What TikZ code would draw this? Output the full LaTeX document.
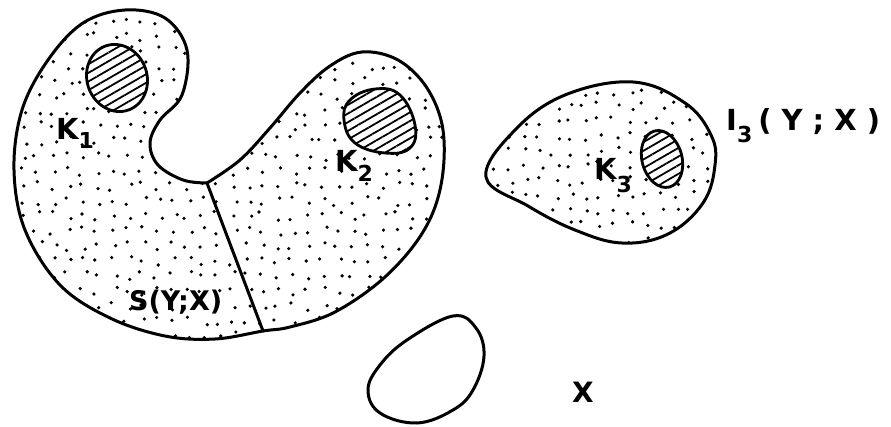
\documentclass[tikz,border=0pt]{standalone}
\usepackage{fontspec}
\setmainfont{DejaVu Sans}
\usepackage{tikz}
\usetikzlibrary{patterns.meta}

\newcommand\kidneypath{plot[smooth,tension=0.6] coordinates {
    (207,183) (240,160) (270,128) (300,93) (330,66) (362,52) (398,60)
    (427,88) (443,130) (441,185) (423,232) (385,277) (335,312) (290,327)
    (263,331) (215,339) (165,336) (110,318) (60,285) (25,230) (14,170)
    (22,110) (48,60) (83,23) (125,10) (165,18) (187,50) (182,95)
    (160,120) (150,143) (158,165) (183,180) (207,183)}}
\newcommand\droppath{plot[smooth cycle,tension=0.65] coordinates {
    (486,177) (515,130) (565,95) (633,82) (685,103) (711,135) (715,165)
    (703,203) (668,234) (622,243) (575,230) (528,206)}}
\newcommand\subfont{\fontsize{22}{22}\selectfont}

\begin{document}
\begin{tikzpicture}[
    x=1pt,y=-1pt,
    font=\fontsize{29}{31}\selectfont\bfseries,
    outline/.style={draw=black,line width=3pt,line join=round,line cap=round},
    hole/.style={draw=black,line width=2.8pt,preaction={fill=white},
        pattern={Lines[angle=30,distance=7.5pt,line width=1.8pt]}},
    stipple/.style={fill=black},
    lbl/.style={inner sep=0pt,anchor=base west}
]
\useasboundingbox (0,0) rectangle (891,427);
\pgfmathsetseed{11}

% Stippled regions.
\begin{scope}
    \clip \kidneypath;
    \foreach \gx in {0,...,30}{
        \foreach \gy in {0,...,24}{
            \pgfmathsetmacro\dotx{8+15*\gx+4.5*rand}
            \pgfmathsetmacro\doty{6+15*\gy+4.5*rand}
            \fill[stipple] (\dotx,\doty) circle[radius=1.8];
        }
    }
\end{scope}
\begin{scope}
    \clip \droppath;
    \foreach \gx in {0,...,16}{
        \foreach \gy in {0,...,12}{
            \pgfmathsetmacro\dotx{480+15*\gx+4.5*rand}
            \pgfmathsetmacro\doty{76+15*\gy+4.5*rand}
            \fill[stipple] (\dotx,\doty) circle[radius=1.8];
        }
    }
\end{scope}

% Outlines and the boundary between the two parts of S(Y;X).
\coordinate (join) at (207,183);
\coordinate (base) at (263,331);
\draw[outline] \kidneypath;
\draw[outline] (join) -- (base);
\draw[outline] \droppath;
\draw[outline] plot[smooth cycle,tension=0.65] coordinates {
    (453,316) (476,328) (484,356) (473,390) (453,410) (417,423)
    (380,413) (368,390) (380,365) (407,340)};

% Hatched compact sets.
\draw[hole] (117,78) ellipse[x radius=30,y radius=34,rotate=20];
\draw[hole] plot[smooth cycle,tension=0.7] coordinates {
    (350,100) (375,89) (400,95) (415,125) (410,148) (385,153) (355,143) (344,120)};
\draw[hole] (662,159) ellipse[x radius=20,y radius=29,rotate=15];

% Labels.
\node[lbl] (k1) at (56,140) {K\raisebox{-9pt}{\subfont 1}};
\node[lbl] (k2) at (335,172) {K\raisebox{-10pt}{\subfont 2}};
\node[lbl] (k3) at (594,180) {K\raisebox{-13pt}{\subfont 3}};
\node[lbl,font=\fontsize{27}{29}\selectfont\bfseries] (syx) at (129,311) {S(Y;X)};
\node[lbl] (i3) at (726,131) {I\raisebox{-12pt}{\subfont 3}\hspace{6pt}( Y ; X )};
\node[inner sep=0pt] (xspace) at (583,392) {\fontsize{28}{28}\selectfont X};
\end{tikzpicture}
\end{document}
